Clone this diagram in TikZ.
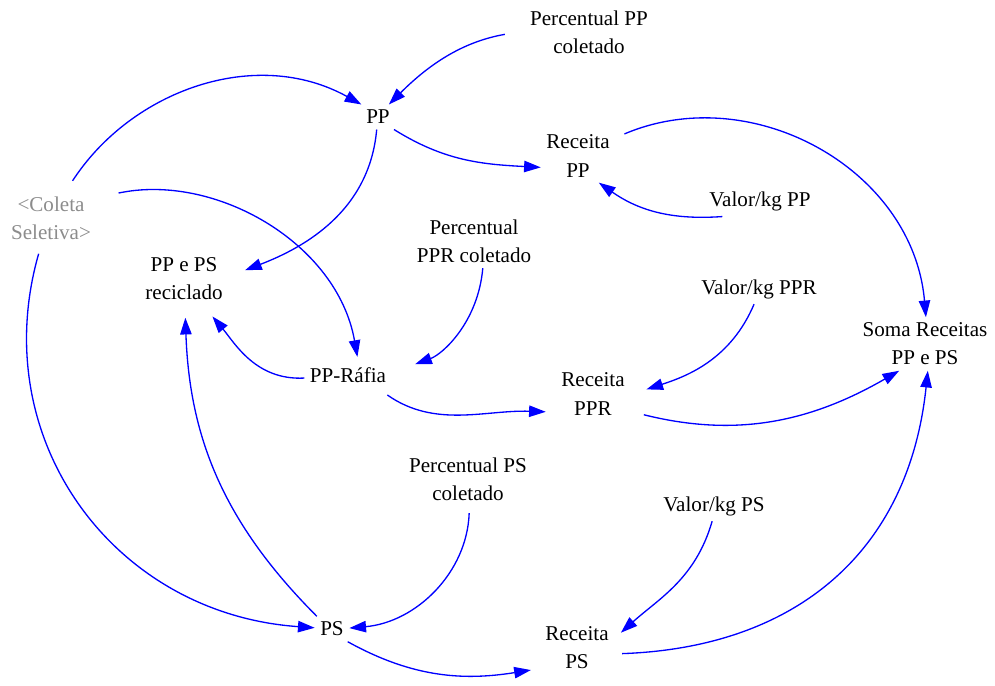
\documentclass[tikz,border=0pt]{standalone}
\usepackage{fontspec}
\setmainfont{Liberation Serif}
\usetikzlibrary{arrows.meta}
\definecolor{linkblue}{RGB}{0,0,255}
\definecolor{shadowgray}{RGB}{140,140,140}
\begin{document}
\begin{tikzpicture}[x=0.02cm,y=0.02cm,
  var/.style={align=center,inner sep=3pt,font=\fontsize{12}{16}\selectfont},
  shadowvar/.style={var,text=shadowgray},
  link/.style={draw=linkblue,line width=0.75pt,-{Triangle[length=9.5pt,width=6.5pt]}},
]
\useasboundingbox (0,0) rectangle (995,-686);

% variables
\node[var] (pctPP)  at (589,-32)  {Percentual PP\\coletado};
\node[var] (PP)     at (378,-117) {PP};
\node[var] (recPP)  at (578,-156) {Receita\\PP};
\node[var] (valPP)  at (760,-201) {Valor/kg PP};
\node[shadowvar] (coleta) at (51,-218) {<Coleta\\Seletiva>};
\node[var] (recicl) at (184,-279) {PP e PS\\reciclado};
\node[var] (pctPPR) at (474,-241) {Percentual\\PPR coletado};
\node[var] (valPPR) at (759,-289) {Valor/kg PPR};
\node[var] (soma)   at (925,-344) {Soma Receitas\\PP e PS};
\node[var] (rafia)  at (348,-375) {PP-Ráfia};
\node[var] (recPPR) at (593,-394) {Receita\\PPR};
\node[var] (pctPS)  at (468,-479) {Percentual PS\\coletado};
\node[var] (valPS)  at (714,-506) {Valor/kg PS};
\node[var] (PS)     at (332,-629) {PS};
\node[var] (recPS)  at (577,-648) {Receita\\PS};

% causal links
\draw[link, shorten <=0.4cm] (pctPP.179) to[out=190,in=45] (PP.49);
\draw[link, shorten <=0.24cm] (coleta.61) to[out=57,in=151] (PP.143);
\draw[link] (PP.-38) to[out=-32,in=177] (recPP.197);
\draw[link, shorten >=0.36cm] (PP.-96) to[out=-95,in=21] (recicl.3);
\draw[link, shorten <=0.45cm, shorten >=0.1cm] (coleta.24) to[out=12,in=100] (rafia.52);
\draw[link, shorten <=0.2cm] (recPP.26) to[out=23,in=95,looseness=1.06] (soma.88);
\draw[link, shorten <=0.1cm] (valPP.205) to[out=184,in=-35] (recPP.-52);
\draw[link, shorten >=0.5cm] (pctPPR.-72) to[out=-95,in=20] (rafia.3);
\draw[link, shorten >=0.28cm] (rafia.184) to[out=183,in=-50] (recicl.-54);
\draw[link, shorten >=0.24cm] (PS.140) to[out=135,in=-88] (recicl.-88);
\draw[link, shorten <=0.18cm] (coleta.-110) to[out=-106,in=176,looseness=1.1] (PS.176);
\draw[link, shorten <=0.24cm, shorten >=0.2cm] (rafia.-24) to[out=-35,in=178] (recPPR.206);
\draw[link, shorten >=0.34cm] (valPPR.-108) to[out=-113,in=18] (recPPR.-1);
\draw[link, shorten <=0.28cm] (recPPR.-25) to[out=-14,in=210] (soma.226);
\draw[link, shorten <=0.14cm] (pctPS.-87) to[out=-92,in=5] (PS.3);
\draw[link, shorten >=0.18cm] (valPS.-97) to[out=-106,in=42] (recPS.14);
\draw[link, shorten >=0.18cm] (PS.-39) to[out=-29,in=189] (recPS.209);
\draw[link, shorten <=0.16cm] (recPS.-9) to[out=2,in=-96,looseness=1.1] (soma.-84);
\end{tikzpicture}
\end{document}
